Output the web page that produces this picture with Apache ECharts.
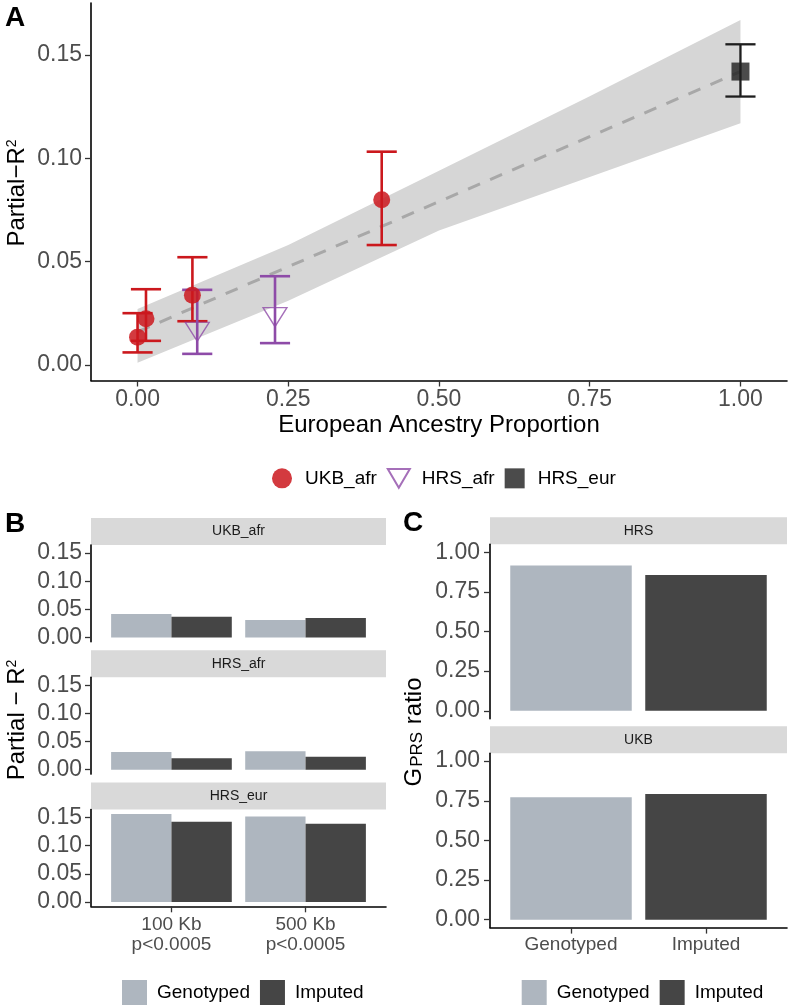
<!DOCTYPE html>
<html>
<head>
<meta charset="utf-8">
<title>Partial R2 / G_PRS ratio</title>
<script src="https://cdn.jsdelivr.net/npm/echarts@6/dist/echarts.min.js"></script>
<style>
html, body { margin: 0; padding: 0; background: #fff; }
#chart { width: 789px; height: 1008px; }
</style>
</head>
<body>
<div id="chart"></div>
<script>
// ---- panel A : partial R2 against european ancestry ----
var ukbAfrX  = [0.000, 0.014, 0.091, 0.405];
var ukbAfrY  = [0.0134, 0.0223, 0.0337, 0.0799];
var ukbAfrLo = [0.0060, 0.0116, 0.0211, 0.0580];
var ukbAfrHi = [0.0250, 0.0366, 0.0521, 0.1032];

var hrsAfrX  = [0.099, 0.228];
var hrsAfrY  = [0.0160, 0.0231];
var hrsAfrLo = [0.0053, 0.0105];
var hrsAfrHi = [0.0363, 0.0429];

var hrsEurX  = [1.000];
var hrsEurY  = [0.1420];
var hrsEurLo = [0.1299];
var hrsEurHi = [0.1552];

// regression line and its confidence band
var fitX   = [0, 1];
var fitY   = [0.016, 0.142];
var bandX  = [0, 0.25, 0.5, 0.75, 1];
var bandLo = [0.001, 0.031, 0.065, 0.091, 0.117];
var bandHi = [0.027, 0.058, 0.094, 0.130, 0.167];

var ticksAx = [0, 0.25, 0.5, 0.75, 1];
var ticksAy = [0, 0.05, 0.10, 0.15];

// ---- panel B : partial R2 per cohort / window ----
var windowLabels = ['100 Kb\np<0.0005', '500 Kb\np<0.0005'];
var cohortsB     = ['UKB_afr', 'HRS_afr', 'HRS_eur'];
var genotypedB   = [[0.0418, 0.0309], [0.0315, 0.0328], [0.1565, 0.1520]];
var imputedB     = [[0.0367, 0.0347], [0.0206, 0.0232], [0.1423, 0.1390]];
var ticksBy      = [0, 0.05, 0.10, 0.15];

// ---- panel C : G_PRS ratio ----
var cohortsC      = ['HRS', 'UKB'];
var platforms     = ['Genotyped', 'Imputed'];
var gprsGenotyped = [0.917, 0.772];
var gprsImputed   = [0.857, 0.793];
var ticksCy       = [0, 0.25, 0.5, 0.75, 1];

// styles + layout
var FONT = '"Liberation Sans", Arial, sans-serif';
var RED = '#CB181D', PURPLE = '#8E4BA8', BLACK = '#1E1E1E';
var GENO = '#AEB6BF', IMP = '#454545', STRIP = '#D9D9D9', TICK = '#4D4D4D';
var TRI_DOWN = 'path://M0,0L20,0L10,17Z';
var SQUARE = 'path://M0,0L10,0L10,10L0,10Z';
var WHISKER = 0.05;

var gridA = {left: 91, top: 3, width: 696, height: 377.5};
var gridB = {left: 91, width: 295, height: 96.8, tops: [545, 677.3, 809.5]};
var gridC = {left: 490, width: 297, height: 174.4, tops: [544.3, 753.2]};
var STRIP_H = 27;

function fmt2(v) {
    return v.toFixed(2);
}

function valueAxis(grid, min, max, ticks, o) {
    o = o || {};
    var show = o.show !== false;
    return {
        type: 'value', gridIndex: grid, min: min, max: max,
        splitLine: {show: false},
        axisLine: {show: show, onZero: false, lineStyle: {color: '#000', width: 1.6}},
        axisTick: {show: show, length: 6, customValues: ticks, lineStyle: {color: '#333', width: 1.3}},
        axisLabel: {
            show: show, customValues: ticks, fontSize: o.size || 23, color: TICK,
            fontFamily: FONT, margin: o.margin || 9, lineHeight: o.lineHeight || null,
            formatter: o.formatter || fmt2
        },
        name: o.name || '', nameLocation: 'middle', nameGap: o.nameGap || 0,
        nameTextStyle: {fontSize: 24, color: '#000', fontFamily: FONT}
    };
}

// vertical error bar with whiskers, drawn through the axis scales
function errorBar(color, width) {
    return function (params, api) {
        var x = api.value(0);
        var lo = api.coord([x, api.value(1)]);
        var hi = api.coord([x, api.value(2)]);
        var half = api.size([WHISKER / 2, 0])[0];
        var st = {stroke: color, lineWidth: width};
        return {type: 'group', children: [
            {type: 'line', shape: {x1: lo[0], y1: lo[1], x2: hi[0], y2: hi[1]}, style: st},
            {type: 'line', shape: {x1: hi[0] - half, y1: hi[1], x2: hi[0] + half, y2: hi[1]}, style: st},
            {type: 'line', shape: {x1: lo[0] - half, y1: lo[1], x2: lo[0] + half, y2: lo[1]}, style: st}
        ]};
    };
}

function zip3(a, b, c) {
    return a.map(function (v, i) { return [v, b[i], c[i]]; });
}

var Figure = {
    chart: null,
    grid: [], xAxis: [], yAxis: [], series: [], graphic: [], legend: [],

    init: function () {
        this.chart = echarts.init(document.getElementById('chart'), null, {renderer: 'canvas'});
        this.panelA();
        this.panelB();
        this.panelC();
        this.chart.setOption({
            animation: false,
            textStyle: {fontFamily: FONT},
            grid: this.grid, xAxis: this.xAxis, yAxis: this.yAxis,
            series: this.series, legend: this.legend, graphic: this.graphic
        });
    },

    panelA: function () {
        this.grid.push({left: gridA.left, top: gridA.top, width: gridA.width, height: gridA.height});
        this.xAxis.push(valueAxis(0, -0.0772, 1.0772, ticksAx, {
            margin: 8, name: 'European Ancestry Proportion', nameGap: 33
        }));
        this.yAxis.push(valueAxis(0, -0.0076, 0.1752, ticksAy, {}));

        // confidence band
        this.series.push({
            type: 'custom', xAxisIndex: 0, yAxisIndex: 0, silent: true, z: 1,
            data: zip3(bandX, bandLo, bandHi),
            renderItem: function (params, api) {
                if (params.dataIndex !== 0) return null;
                var pts = [], i;
                for (i = 0; i < bandX.length; i++) pts.push(api.coord([bandX[i], bandHi[i]]));
                for (i = bandX.length - 1; i >= 0; i--) pts.push(api.coord([bandX[i], bandLo[i]]));
                return {type: 'polygon', shape: {points: pts}, style: {fill: '#D6D6D6'}};
            }
        });
        // fitted line
        this.series.push({
            type: 'line', xAxisIndex: 0, yAxisIndex: 0, z: 2, symbol: 'none', silent: true,
            data: fitX.map(function (x, i) { return [x, fitY[i]]; }),
            lineStyle: {color: '#A8A8A8', width: 3, type: [13, 11]}
        });
        // error bars
        var bars = [[ukbAfrX, ukbAfrLo, ukbAfrHi, RED, 2.6],
                    [hrsAfrX, hrsAfrLo, hrsAfrHi, PURPLE, 2.6],
                    [hrsEurX, hrsEurLo, hrsEurHi, BLACK, 2.3]];
        for (var i = 0; i < bars.length; i++) {
            this.series.push({
                type: 'custom', xAxisIndex: 0, yAxisIndex: 0, z: 3, silent: true,
                encode: {x: 0, y: [1, 2]},
                data: zip3(bars[i][0], bars[i][1], bars[i][2]),
                renderItem: errorBar(bars[i][3], bars[i][4])
            });
        }
        // points
        this.series.push({
            type: 'scatter', name: 'UKB_afr', xAxisIndex: 0, yAxisIndex: 0, z: 4,
            symbol: 'circle', symbolSize: 17,
            data: ukbAfrX.map(function (x, i) { return [x, ukbAfrY[i]]; }),
            itemStyle: {color: RED, opacity: 0.85}
        });
        this.series.push({
            type: 'scatter', name: 'HRS_afr', xAxisIndex: 0, yAxisIndex: 0, z: 4,
            symbol: TRI_DOWN, symbolSize: [24, 19], symbolKeepAspect: false,
            data: hrsAfrX.map(function (x, i) { return [x, hrsAfrY[i]]; }),
            itemStyle: {color: 'rgba(255,255,255,0)', borderColor: PURPLE, borderWidth: 1.3}
        });
        this.series.push({
            type: 'scatter', name: 'HRS_eur', xAxisIndex: 0, yAxisIndex: 0, z: 4,
            symbol: 'rect', symbolSize: 18,
            data: hrsEurX.map(function (x, i) { return [x, hrsEurY[i]]; }),
            itemStyle: {color: BLACK}
        });

        this.legend.push({
            left: 267, top: 463, itemWidth: 22, itemHeight: 20, itemGap: 10, selectedMode: false,
            data: [{name: 'UKB_afr', icon: 'circle'}, {name: 'HRS_afr', icon: TRI_DOWN}, {name: 'HRS_eur', icon: SQUARE}],
            textStyle: {fontSize: 19, color: '#000', fontFamily: FONT, padding: [0, 0, 0, 7]}
        });

        this.graphic.push(this.panelLetter('A', 5, 4));
        this.graphic.push(this.yTitle('{m|Partial\u2212R}{s|2}', 17, 193));
    },

    panelB: function () {
        var unit = gridB.width / 2.2;
        for (var p = 0; p < cohortsB.length; p++) {
            var gi = this.grid.length;
            var last = p === cohortsB.length - 1;
            this.grid.push({left: gridB.left, top: gridB.tops[p], width: gridB.width, height: gridB.height});
            this.xAxis.push(valueAxis(gi, 0.4, 2.6, [1, 2], {
                show: last, size: 19, margin: 8, lineHeight: 20,
                formatter: function (v) { return windowLabels[Math.round(v) - 1]; }
            }));
            this.yAxis.push(valueAxis(gi, -0.0078, 0.1643, ticksBy, {}));
            this.series.push({
                type: 'bar', name: 'Genotyped', xAxisIndex: gi, yAxisIndex: gi,
                barWidth: unit * 0.45, barGap: '0%',
                data: genotypedB[p].map(function (v, j) { return [j + 1, v]; }),
                itemStyle: {color: GENO}
            });
            this.series.push({
                type: 'bar', name: 'Imputed', xAxisIndex: gi, yAxisIndex: gi,
                barWidth: unit * 0.45, barGap: '0%',
                data: imputedB[p].map(function (v, j) { return [j + 1, v]; }),
                itemStyle: {color: IMP}
            });
            this.strip(cohortsB[p], gridB.left, gridB.tops[p], gridB.width);
        }
        this.legend.push(this.barLegend(117));
        this.graphic.push(this.panelLetter('B', 5, 510));
        this.graphic.push(this.yTitle('{m|Partial \u2212 R}{s|2}', 17, 720));
    },

    panelC: function () {
        var unit = gridC.width / 2.2;
        for (var p = 0; p < cohortsC.length; p++) {
            var gi = this.grid.length;
            var last = p === cohortsC.length - 1;
            this.grid.push({left: gridC.left, top: gridC.tops[p], width: gridC.width, height: gridC.height});
            this.xAxis.push(valueAxis(gi, 0.4, 2.6, [1, 2], {
                show: last, size: 19, margin: 8,
                formatter: function (v) { return platforms[Math.round(v) - 1]; }
            }));
            this.yAxis.push(valueAxis(gi, -0.05, 1.05, ticksCy, {margin: 10}));
            this.series.push({
                type: 'bar', name: 'Genotyped', xAxisIndex: gi, yAxisIndex: gi,
                barWidth: unit * 0.9, barGap: '-100%',
                data: [[1, gprsGenotyped[p]]],
                itemStyle: {color: GENO}
            });
            this.series.push({
                type: 'bar', name: 'Imputed', xAxisIndex: gi, yAxisIndex: gi,
                barWidth: unit * 0.9, barGap: '-100%',
                data: [[2, gprsImputed[p]]],
                itemStyle: {color: IMP}
            });
            this.strip(cohortsC[p], gridC.left, gridC.tops[p], gridC.width);
        }
        this.legend.push(this.barLegend(516.7));
        this.graphic.push(this.panelLetter('C', 403, 509));
        this.graphic.push(this.yTitle('{m|G}{b|PRS}{m| ratio}', 414, 732));
    },

    // grey facet strip above a panel
    strip: function (label, left, top, width) {
        this.graphic.push({
            type: 'rect', left: left, top: top - STRIP_H, silent: true,
            shape: {width: width, height: STRIP_H}, style: {fill: STRIP}
        });
        this.graphic.push({
            type: 'text', x: left + width / 2, y: top - STRIP_H / 2, silent: true,
            style: {text: label, align: 'center', verticalAlign: 'middle', fill: '#1A1A1A',
                    font: '14px "Liberation Sans", Arial, sans-serif'}
        });
    },

    barLegend: function (left) {
        return {
            left: left, top: 975, itemWidth: 25, itemHeight: 25, itemGap: 10, selectedMode: false,
            data: [{name: 'Genotyped', icon: 'rect'}, {name: 'Imputed', icon: 'rect'}],
            textStyle: {fontSize: 19, color: '#000', fontFamily: FONT, padding: [0, 0, 0, 5]}
        };
    },

    panelLetter: function (ch, x, y) {
        return {
            type: 'text', left: x, top: y, silent: true,
            style: {text: ch, fill: '#000', font: 'bold 28px "Liberation Sans", Arial, sans-serif'}
        };
    },

    yTitle: function (txt, x, y) {
        return {
            type: 'text', x: x, y: y, rotation: Math.PI / 2, silent: true,
            style: {
                text: txt, align: 'center', verticalAlign: 'middle', fill: '#000',
                rich: {
                    m: {fontSize: 24, lineHeight: 24, fontFamily: FONT, fill: '#000', verticalAlign: 'middle'},
                    s: {fontSize: 14, lineHeight: 12, fontFamily: FONT, fill: '#000', verticalAlign: 'top'},
                    b: {fontSize: 17, lineHeight: 14, fontFamily: FONT, fill: '#000', verticalAlign: 'bottom', padding: [0, 1, 0, 1]}
                }
            }
        };
    }
};

window.onload = function () {
    Figure.init();
};
</script>
</body>
</html>
